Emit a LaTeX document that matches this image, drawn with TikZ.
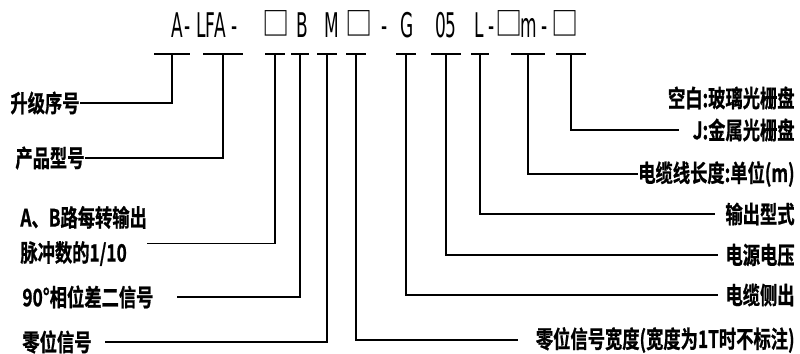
\documentclass[tikz,border=0pt]{standalone}
\usepackage{fontspec}
\setmainfont{Noto Sans CJK SC}
\newfontfamily\lblfont{Noto Sans CJK SC Bold}[FakeStretch=0.72,FakeBold=0.8]
\newfontfamily\codefont{DejaVu Sans}[FakeStretch=0.5]
\newfontfamily\sqfont{Noto Sans CJK SC}[FakeStretch=0.85]
\newcommand\sqbox{\raisebox{0.8pt}{\sqfont\fontsize{16}{16}\selectfont □}}
\usepackage{tikz}
\usetikzlibrary{positioning}

\begin{document}
\begin{tikzpicture}[
  x=0.5pt,y=-0.5pt,
  code/.style={font=\codefont\fontsize{17}{17}\selectfont,inner sep=0pt,anchor=base},
  lbl/.style={font=\lblfont\fontsize{12}{17.5}\selectfont,inner sep=0pt},
  lead/.style={line width=0.9pt,color=black}
]
\useasboundingbox (0,0) rectangle (800,354);
\foreach \s/\x [count=\k] in {A/177,-/188,LFA/211,-/235,\sqbox/276,B/302,M/332,\sqbox/359,-/385,G/407,05/446,L/479,-/492,\sqbox/509,m/529,-/545,\sqbox/565}
  \node[code] (c\k) at (\x,37) {\s};
\foreach \x/\w [count=\k] in {172/18,223/20,275/10,300/9,327/10,356/10,406/10,446/15,480/9,528/17,571/15}{
  \coordinate (t\k) at (\x,54);
  \draw[lead] ([xshift=-\w*0.5pt]t\k) -- ([xshift=\w*0.5pt]t\k);
}
\node[lbl,anchor=west] (serial) at (10,103) {升级序号};
\node[lbl,anchor=west] (model) at (15,158) {产品型号};
\node[lbl,anchor=west,align=left] (pulse) at (20,236) {A、B路每转输出\\脉冲数的1/10};
\node[lbl,anchor=west] (phase) at (22,297) {90°相位差二信号};
\node[lbl,anchor=west] (zero) at (22,342) {零位信号};
\node[lbl,anchor=east] (zwidth) at (795,340) {零位信号宽度(宽度为1T时不标注)};
\node[lbl,anchor=east] (side) at (795,295) {电缆侧出};
\node[lbl,anchor=east] (volt) at (795,255) {电源电压};
\node[lbl,anchor=east] (outtype) at (795,214) {输出型式};
\node[lbl,anchor=east] (cable) at (795,174) {电缆线长度:单位(m)};
\node[lbl,anchor=east] (glass) at (795,98) {空白:玻璃光栅盘};
\node[lbl,anchor=east] (metal) at (795,130) {J:金属光栅盘};
\draw[lead] (t1) |- (serial.east);
\draw[lead] (t2) |- (model.east);
\draw[lead] (t3) |- ([yshift=-3.75pt]pulse.east);
\draw[lead,shorten >=11.5pt] (t4) |- (phase.east);
\draw[lead,shorten >=6.5pt] (t5) |- (zero.east);
\draw[lead,shorten >=9pt] (t6) |- (zwidth.west);
\draw[lead,shorten >=3.5pt] (t7) |- (side.west);
\draw[lead,shorten >=3.5pt] (t8) |- (volt.west);
\draw[lead,shorten >=5pt] (t9) |- (outtype.west);
\draw[lead] (t10) |- (cable.west);
\draw[lead,shorten >=6.5pt] (t11) |- (metal.west);
\end{tikzpicture}
\end{document}
